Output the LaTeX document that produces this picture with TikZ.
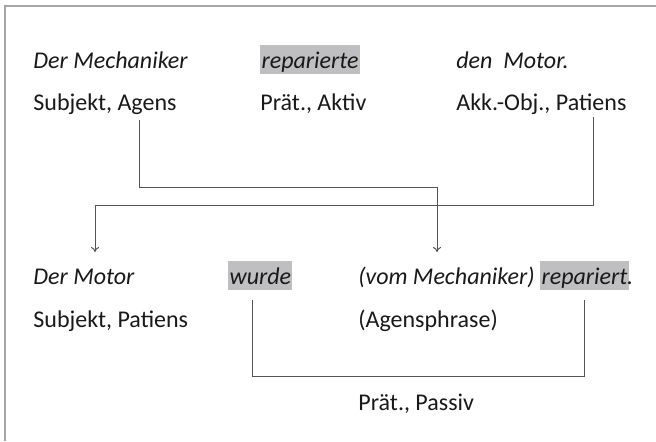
\documentclass[tikz,border=0pt]{standalone}
\usepackage{fontspec}
\setmainfont{Carlito}
\usetikzlibrary{calc,arrows.meta}
\definecolor{hlgray}{RGB}{191,191,193}
\definecolor{linegray}{RGB}{85,85,85}
\definecolor{framegray}{RGB}{165,165,170}
\definecolor{textdark}{RGB}{25,25,25}
\begin{document}
\begin{tikzpicture}[
    x=0.5pt, y=-0.5pt,
    font=\fontsize{12pt}{14pt}\selectfont, text=textdark,
    gloss/.style={anchor=base west, inner sep=0pt},
    word/.style={gloss, font=\fontsize{12pt}{14pt}\selectfont\itshape},
    hl/.style={word, fill=hlgray, inner xsep=0.6pt, inner ysep=0pt, text height=11.5pt, text depth=3.2pt},
    link/.style={draw=linegray, line width=0.5pt},
    arrow/.style={link, -{To[length=2.5pt,width=4pt]}}
]
    \useasboundingbox (0,0) rectangle (656,441);
    % Rahmen
    \draw[framegray, line width=1pt] (5,441) -- (5,6) -- (656,6);

    % Aktivsatz
    \node[word] (mech) at (33,68) {Der Mechaniker};
    \node[hl] (repte) at (260,68) {reparierte};
    \node[word] (motor1) at (456,68) {den\ \ Motor.};
    \node[gloss] (subj1) at (33,110) {Subjekt, Agens};
    \node[gloss] (praet1) at (260,110) {Prät., Aktiv};
    \node[gloss] (akk) at (456,110) {Akk.-Obj., Patiens};

    % Passivsatz
    \node[word] (motor2) at (33,284) {Der Motor};
    \node[hl] (wurde) at (228,284) {wurde};
    \node[word] (vommech) at (358,284) {(vom Mechaniker)};
    \node[hl] (rept) at (540,284) {repariert};
    \node[word, anchor=base west] (punkt) at ([xshift=-1.2pt]rept.base east) {.};
    \node[gloss] (subj2) at (33,327) {Subjekt, Patiens};
    \node[gloss] (agph) at (358,327) {(Agensphrase)};
    \node[gloss] (praet2) at (358,410) {Prät., Passiv};

    % Verbindungen
    \draw[arrow] ($(subj1.base west)+(106,10)$) -- ++(0,67) -| ($(vommech.base west)+(79,-32)$);
    \draw[arrow] ($(akk.base west)+(137,7)$) -- ++(0,88) -| ($(motor2.base west)+(62,-32)$);
    \draw[link] ($(wurde.base west)+(24,16)$) -- ++(0,76) -| ($(rept.base west)+(44,16)$);
\end{tikzpicture}
\end{document}
